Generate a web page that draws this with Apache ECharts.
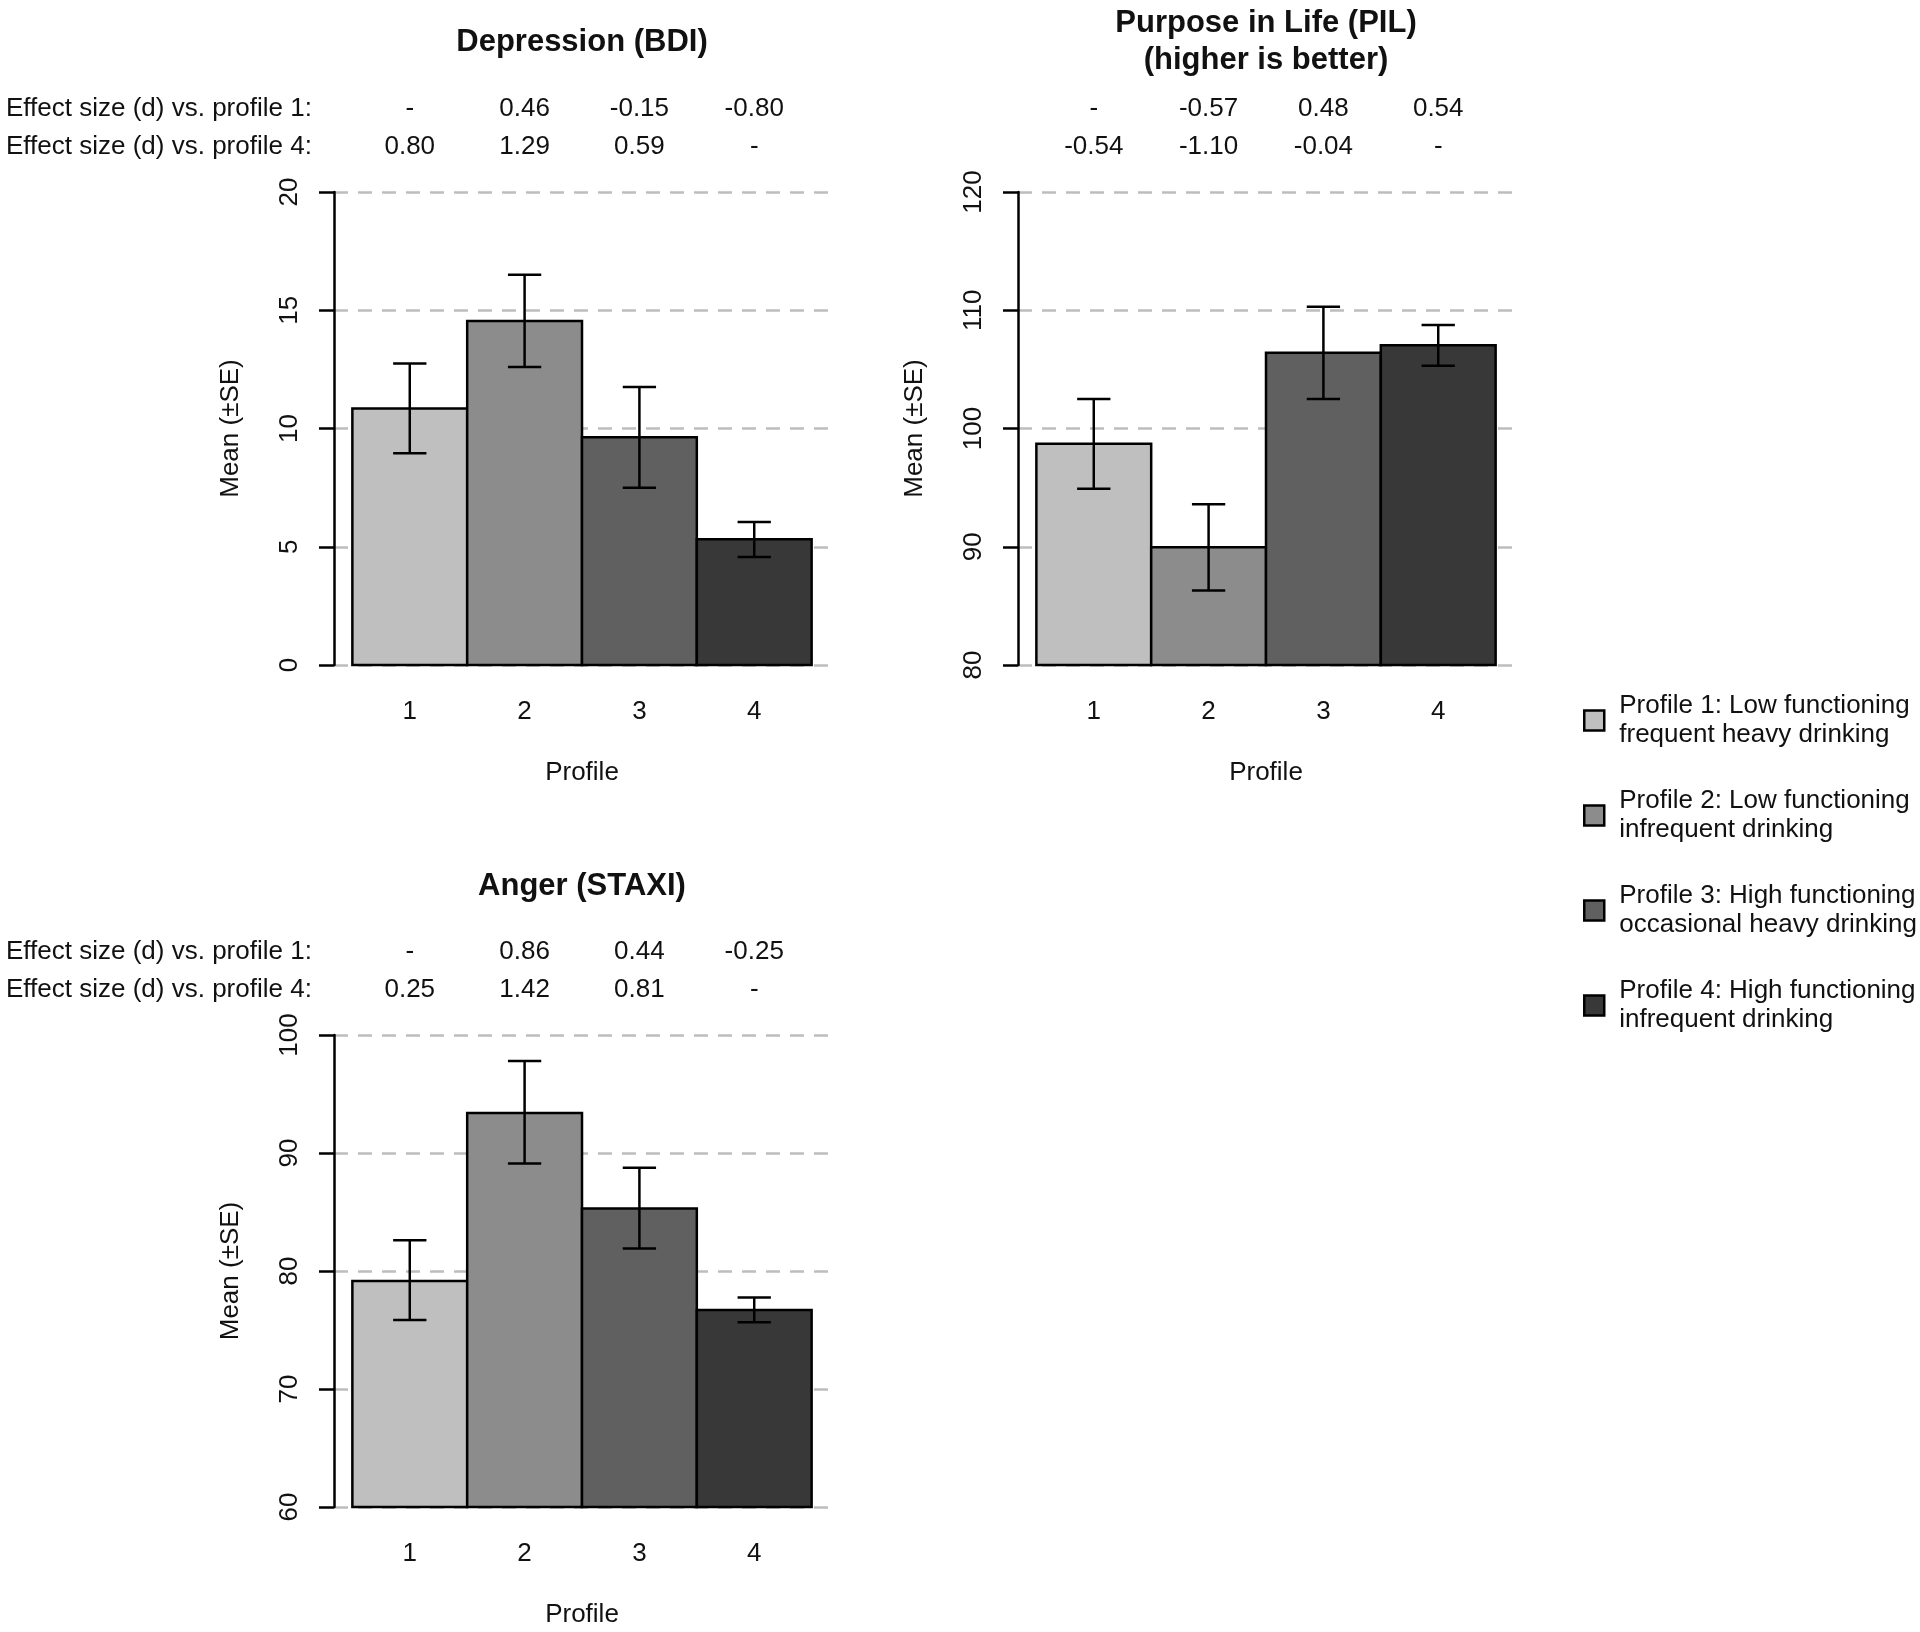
<!DOCTYPE html>
<html>
<head>
<meta charset="utf-8">
<script src="https://cdn.jsdelivr.net/npm/echarts@6/dist/echarts.min.js"></script>
<style>
html,body{margin:0;padding:0;background:#fff;}
#c{width:1920px;height:1632px;}
</style>
</head>
<body>
<div id="c"></div>
<script>
// ---------- data ----------
const profiles = [1, 2, 3, 4];
const profileNames = [
  'Profile 1: Low functioning\nfrequent heavy drinking',
  'Profile 2: Low functioning\ninfrequent drinking',
  'Profile 3: High functioning\noccasional heavy drinking',
  'Profile 4: High functioning\ninfrequent drinking'
];
const rowLabels = ['Effect size (d) vs. profile 1:', 'Effect size (d) vs. profile 4:'];

const bdiTicks = [0, 5, 10, 15, 20];
const bdiMean  = [10.85, 14.55, 9.63, 5.32];
const bdiLower = [8.95, 12.6, 7.5, 4.57];
const bdiUpper = [12.75, 16.5, 11.75, 6.05];
const bdiD1 = ['-', '0.46', '-0.15', '-0.80'];
const bdiD4 = ['0.80', '1.29', '0.59', '-'];

const pilTicks = [80, 90, 100, 110, 120];
const pilMean  = [98.7, 89.95, 106.4, 107.05];
const pilLower = [94.9, 86.3, 102.5, 105.3];
const pilUpper = [102.5, 93.6, 110.3, 108.75];
const pilD1 = ['-', '-0.57', '0.48', '0.54'];
const pilD4 = ['-0.54', '-1.10', '-0.04', '-'];

const staxiTicks = [60, 70, 80, 90, 100];
const staxiMean  = [79.15, 93.4, 85.3, 76.7];
const staxiLower = [75.85, 89.1, 81.9, 75.65];
const staxiUpper = [82.6, 97.8, 88.75, 77.75];
const staxiD1 = ['-', '0.86', '0.44', '-0.25'];
const staxiD4 = ['0.25', '1.42', '0.81', '-'];

// ---------- style ----------
const FONT = '"Liberation Sans", Arial, Helvetica, sans-serif';
const TXT = '#111';
const barColors = ['#bfbfbf', '#8c8c8c', '#606060', '#383838'];
const LW = 2.5;
const CAP = 0.145;

const panels = [
  { title: 'Depression (BDI)', ticks: bdiTicks, mean: bdiMean, lower: bdiLower, upper: bdiUpper, d1: bdiD1, d4: bdiD4,
    grid: { left: 334, top: 192, width: 496, height: 473 }, rowLabels: true },
  { title: 'Purpose in Life (PIL)\n(higher is better)', ticks: pilTicks, mean: pilMean, lower: pilLower, upper: pilUpper, d1: pilD1, d4: pilD4,
    grid: { left: 1018, top: 192, width: 496, height: 473 }, rowLabels: false },
  { title: 'Anger (STAXI)', ticks: staxiTicks, mean: staxiMean, lower: staxiLower, upper: staxiUpper, d1: staxiD1, d4: staxiD4,
    grid: { left: 334, top: 1035, width: 496, height: 472 }, rowLabels: true }
];
const titleY = [42.5, 41.5, 886.5];

function txt(text, x, y, align, size, bold, lh) {
  return { text, x, y, fill: TXT, align, textAlign: align, verticalAlign: 'middle', textVerticalAlign: 'middle',
    font: (bold ? 'bold ' : '') + size + 'px ' + FONT, lineHeight: lh || size };
}

function barRender(yMin, k) {
  return function (params, api) {
    const p = api.value(0), m = api.value(1), lo = api.value(2), hi = api.value(3);
    const tl = api.coord([p - 0.5, m]);
    const br = api.coord([p + 0.5, yMin]);
    const a = api.coord([p, lo]), b = api.coord([p, hi]);
    const cl = api.coord([p - CAP, lo])[0], cr = api.coord([p + CAP, lo])[0];
    const ls = { stroke: '#000', lineWidth: LW };
    return { type: 'group', children: [
      { type: 'rect', shape: { x: tl[0], y: tl[1], width: br[0] - tl[0], height: br[1] - tl[1] },
        style: { fill: barColors[k], stroke: '#000', lineWidth: LW } },
      { type: 'line', shape: { x1: a[0], y1: a[1], x2: b[0], y2: b[1] }, style: ls },
      { type: 'line', shape: { x1: cl, y1: a[1], x2: cr, y2: a[1] }, style: ls },
      { type: 'line', shape: { x1: cl, y1: b[1], x2: cr, y2: b[1] }, style: ls }
    ]};
  };
}

function effRender(panel) {
  return function (params, api) {
    const pt = api.coord([api.value(0), api.value(1)]);
    const i = params.dataIndex;
    const y1 = pt[1] - 83, y2 = pt[1] - 45;
    const children = [
      { type: 'text', style: txt(panel.d1[i], pt[0], y1, 'center', 26) },
      { type: 'text', style: txt(panel.d4[i], pt[0], y2, 'center', 26) }
    ];
    if (i === 0 && panel.rowLabels) {
      children.push({ type: 'text', style: txt(rowLabels[0], 6, y1, 'left', 26) });
      children.push({ type: 'text', style: txt(rowLabels[1], 6, y2, 'left', 26) });
    }
    return { type: 'group', children };
  };
}

const grids = [], xAxes = [], yAxes = [], series = [], graphics = [];
panels.forEach((pn, i) => {
  const yMin = pn.ticks[0], yMax = pn.ticks[pn.ticks.length - 1];
  grids.push(Object.assign({ containLabel: false }, pn.grid));
  xAxes.push({
    gridIndex: i, type: 'value', min: 0.34, max: 4.66,
    axisLine: { show: false, onZero: false }, axisTick: { show: false }, splitLine: { show: false },
    axisLabel: { customValues: profiles, margin: 34, fontSize: 26, fontFamily: FONT, color: TXT },
    name: 'Profile', nameLocation: 'middle', nameGap: 95,
    nameTextStyle: { fontSize: 26, fontFamily: FONT, color: TXT }
  });
  yAxes.push({
    gridIndex: i, type: 'value', min: yMin, max: yMax, interval: pn.ticks[1] - pn.ticks[0],
    axisLine: { show: true, onZero: false, lineStyle: { color: '#000', width: LW } },
    axisTick: { show: true, length: 15, lineStyle: { color: '#000', width: LW } },
    axisLabel: { rotate: 90, margin: 31, fontSize: 26, fontFamily: FONT, color: TXT },
    splitLine: { show: true, lineStyle: { type: [14, 10], color: '#bdbdbd', width: 2.5 } },
    name: 'Mean (\u00b1SE)', nameLocation: 'middle', nameRotate: 90, nameGap: 90,
    nameTextStyle: { fontSize: 26, fontFamily: FONT, color: TXT }
  });
  profiles.forEach((p, k) => {
    series.push({
      type: 'custom', name: profileNames[k], xAxisIndex: i, yAxisIndex: i, clip: false, silent: true,
      data: [[p, pn.mean[k], pn.lower[k], pn.upper[k]]],
      encode: { x: 0, y: [1, 2, 3] },
      renderItem: barRender(yMin, k)
    });
  });
  series.push({
    type: 'custom', name: 'effects' + i, xAxisIndex: i, yAxisIndex: i, clip: false, silent: true,
    data: profiles.map(p => [p, yMax]),
    encode: { x: 0, y: 1 },
    renderItem: effRender(pn)
  });
  graphics.push({ type: 'text', x: pn.grid.left + pn.grid.width / 2, y: titleY[i],
    style: txt(pn.title, 0, 0, 'center', 31, true, 37) });
});

const chart = echarts.init(document.getElementById('c'), null, { renderer: 'canvas' });
chart.setOption({
  backgroundColor: '#ffffff',
  animation: false,
  grid: grids,
  xAxis: xAxes,
  yAxis: yAxes,
  series: series,
  graphic: graphics,
  legend: {
    orient: 'vertical', left: 1578, top: 686, itemWidth: 40, itemHeight: 20, itemGap: 36,
    selectedMode: false, icon: 'path://M0,0L20,0L20,20L0,20Z',
    textStyle: { fontSize: 26, lineHeight: 29.5, fontFamily: FONT, color: TXT },
    data: profileNames.map((n, k) => ({ name: n, itemStyle: { color: barColors[k], borderColor: '#000', borderWidth: LW } }))
  }
});
</script>
</body>
</html>
